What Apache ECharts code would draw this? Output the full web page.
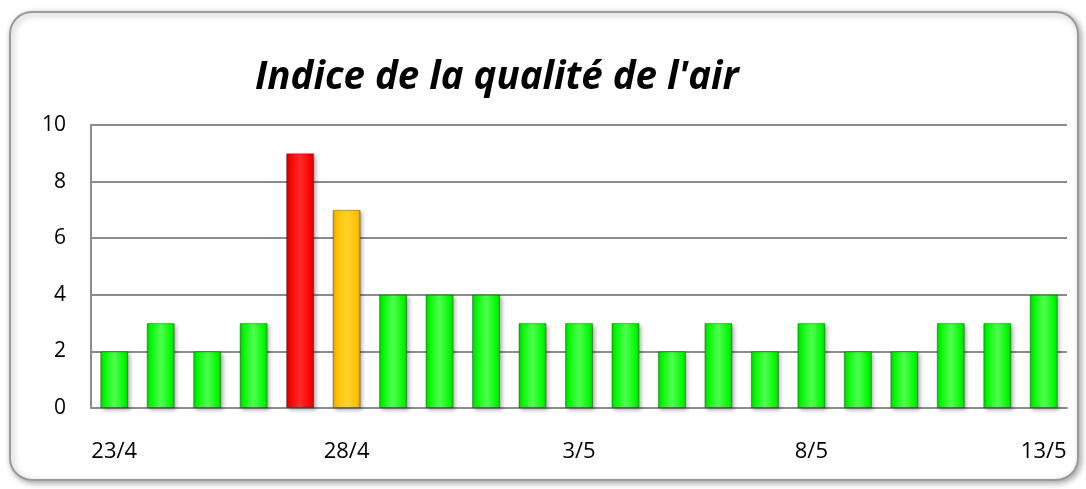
<!DOCTYPE html>
<html>
<head>
<meta charset="utf-8">
<script src="https://cdn.jsdelivr.net/npm/echarts@6/dist/echarts.min.js"></script>
<style>
  html, body { margin: 0; padding: 0; background: #ffffff; }
  #chart { width: 1086px; height: 489px; }
</style>
</head>
<body>
<div id="chart"></div>
<script>
const days = ['23/4', '24/4', '25/4', '26/4', '27/4', '28/4', '29/4', '30/4', '1/5', '2/5',
  '3/5', '4/5', '5/5', '6/5', '7/5', '8/5', '9/5', '10/5', '11/5', '12/5', '13/5']
const indice = [2, 3, 2, 3, 9, 7, 4, 4, 4, 3, 3, 3, 2, 3, 2, 3, 2, 2, 3, 3, 4]

// bar colour by level of the index
const barColor = (v) => {
  let edge = '#00c800', mid = '#50ff50', base = '#00f800'
  if (v >= 8) { edge = '#c00000'; mid = '#ff2a2a'; base = '#fa0000' }
  else if (v >= 5) { edge = '#d89a00'; mid = '#ffd22a'; base = '#ffc000' }
  return new echarts.graphic.LinearGradient(0, 0, 1, 0, [
    { offset: 0, color: edge },
    { offset: 0.12, color: base },
    { offset: 0.5, color: mid },
    { offset: 0.88, color: base },
    { offset: 1, color: edge },
  ])
}

const chart = echarts.init(document.getElementById('chart'))
chart.setOption({
  animation: false,
  title: {
    text: "Indice de la qualité de l'air",
    left: 250,
    top: 54,
    textStyle: {
      fontFamily: 'Open Sans',
      fontStyle: 'italic',
      fontWeight: 'bold',
      fontSize: 38.5,
      color: '#000',
    },
  },
  graphic: [{
    type: 'rect',
    shape: { x: 10, y: 12, width: 1068, height: 468, r: 22 },
    style: {
      fill: '#fff',
      stroke: '#9a9a9a',
      lineWidth: 2,
      shadowColor: 'rgba(0,0,0,0.35)',
      shadowBlur: 6,
      shadowOffsetX: 2,
      shadowOffsetY: 2,
    },
    z: -10,
  }],
  grid: { left: 91, right: 19, top: 125, bottom: 81 },
  xAxis: {
    type: 'category',
    data: days,
    axisLine: { lineStyle: { color: '#8c8c8c', width: 2 } },
    axisTick: { show: false },
    axisLabel: {
      interval: 4,
      margin: 33,
      fontFamily: 'Open Sans',
      fontSize: 22,
      color: '#000',
    },
  },
  yAxis: {
    type: 'value',
    min: 0,
    max: 10,
    interval: 2,
    axisLine: { show: true, lineStyle: { color: '#8c8c8c', width: 2 } },
    axisTick: { show: false },
    axisLabel: {
      margin: 25,
      fontFamily: 'Open Sans',
      fontSize: 21,
      color: '#000',
    },
    splitLine: { lineStyle: { color: '#8c8c8c', width: 2 } },
  },
  series: [{
    type: 'bar',
    data: indice.map((v) => ({
      value: v,
      itemStyle: { color: barColor(v) },
    })),
    barWidth: 28,
    itemStyle: {
      borderColor: 'rgba(0,0,0,0.3)',
      borderWidth: 1,
      shadowColor: 'rgba(0,0,0,0.3)',
      shadowBlur: 4,
      shadowOffsetX: 2,
      shadowOffsetY: 2,
    },
  }],
})
</script>
</body>
</html>
